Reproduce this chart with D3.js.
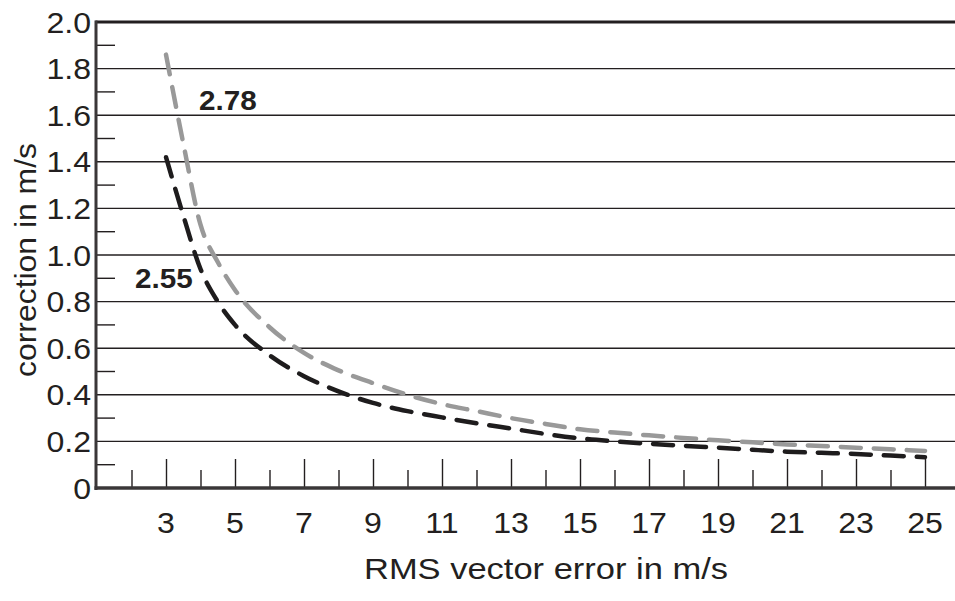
<!DOCTYPE html>
<html>
<head>
<meta charset="utf-8">
<script src="https://cdn.jsdelivr.net/npm/d3@7"></script>
<style>
  html, body { margin: 0; padding: 0; background: #fff; }
  svg { display: block; }
  text { font-family: "Liberation Sans", Arial, Helvetica, sans-serif; fill: #231f20; }
</style>
</head>
<body>
<svg id="chart" width="955" height="601"></svg>
<script>
// RMS vector error (m/s) at which each correction value is given
const rmsError = [3, 3.5, 4, 4.5, 5, 6, 7, 8, 9, 10, 11, 12, 13, 14, 15, 16, 17, 18, 19, 20, 21, 22, 23, 24, 25];

// Correction in m/s for the two curves
const correction278 = [1.86, 1.48, 1.13, 0.97, 0.85, 0.69, 0.58, 0.505, 0.45, 0.40, 0.36, 0.33, 0.30, 0.275, 0.252, 0.238, 0.226, 0.215, 0.205, 0.196, 0.187, 0.18, 0.173, 0.166, 0.159];
const correction255 = [1.42, 1.17, 0.94, 0.80, 0.70, 0.57, 0.48, 0.415, 0.365, 0.33, 0.303, 0.278, 0.255, 0.232, 0.213, 0.20, 0.19, 0.181, 0.173, 0.164, 0.156, 0.151, 0.146, 0.139, 0.132];

const seriesNames = ["2.78", "2.55"];

// Axis ticks and labels
const xLabelTicks = [3, 5, 7, 9, 11, 13, 15, 17, 19, 21, 23, 25];
const xMinorTicks = [2, 4, 6, 8, 10, 12, 14, 16, 18, 20, 22, 24];
const yLabelTicks = [0, 0.2, 0.4, 0.6, 0.8, 1.0, 1.2, 1.4, 1.6, 1.8, 2.0];
const yMinorTicks = [0.1, 0.3, 0.5, 0.7, 0.9, 1.1, 1.3, 1.5, 1.7, 1.9];

const xTitle = "RMS vector error in m/s";
const yTitle = "correction in m/s";

const W = 955, H = 601;
const plotLeft = 97, plotTop = 22, plotBottom = 488, plotRight = W;

const x = d3.scaleLinear().domain([1, 26]).range([plotLeft, plotLeft + 25 * 34.5]);
const y = d3.scaleLinear().domain([0, 2]).range([plotBottom, plotTop]);

const svg = d3.select("#chart");
svg.append("rect").attr("width", W).attr("height", H).attr("fill", "#fff");

const ink = "#231f20";
const tickStretch = 1.07;
const titleStretch = 1.15;

// horizontal grid lines
svg.append("g").selectAll("line")
  .data(yLabelTicks.filter(v => v > 0 && v < 2))
  .join("line")
  .attr("x1", plotLeft).attr("x2", plotRight)
  .attr("y1", d => y(d)).attr("y2", d => y(d))
  .attr("stroke", ink).attr("stroke-width", 1.4);

// short ticks between grid lines
svg.append("g").selectAll("line")
  .data(yMinorTicks)
  .join("line")
  .attr("x1", plotLeft).attr("x2", plotLeft + 18)
  .attr("y1", d => y(d)).attr("y2", d => y(d))
  .attr("stroke", ink).attr("stroke-width", 1.4);

// top frame line
svg.append("line")
  .attr("x1", plotLeft - 1.5).attr("x2", plotRight)
  .attr("y1", y(2)).attr("y2", y(2))
  .attr("stroke", ink).attr("stroke-width", 3);

// x ticks drawn with a bottom axis pointing upward
const xAxisMajor = d3.axisBottom(x).tickValues(xLabelTicks).tickSize(-29).tickFormat("");
const xAxisMinor = d3.axisBottom(x).tickValues(xMinorTicks).tickSize(-18).tickFormat("");
[xAxisMajor, xAxisMinor].forEach(ax => {
  const g = svg.append("g").attr("transform", `translate(0,${plotBottom})`).call(ax);
  g.select(".domain").remove();
  g.selectAll(".tick line").attr("stroke", ink).attr("stroke-width", 1.4);
});

// x tick labels
svg.append("g").selectAll("text")
  .data(xLabelTicks)
  .join("text")
  .attr("text-anchor", "middle")
  .attr("font-size", 30)
  .attr("transform", d => `translate(${x(d)},533) scale(${tickStretch},1)`)
  .text(d => d3.format("d")(d));

// y tick labels
svg.append("g").selectAll("text")
  .data(yLabelTicks)
  .join("text")
  .attr("text-anchor", "end")
  .attr("font-size", 30)
  .attr("dy", "0.35em")
  .attr("transform", d => `translate(91,${y(d)}) scale(${tickStretch},1)`)
  .text(d => d === 0 ? "0" : d3.format(".1f")(d));

// axis titles
svg.append("text")
  .attr("text-anchor", "middle")
  .attr("font-size", 30)
  .attr("transform", `translate(546,579) scale(${titleStretch},1)`)
  .text(xTitle);

svg.append("text")
  .attr("text-anchor", "middle")
  .attr("font-size", 29)
  .attr("transform", `translate(36,260) rotate(-90) scale(1.1,1)`)
  .text(yTitle);

// curves
const line = d3.line()
  .x((d, i) => x(rmsError[i]))
  .y(d => y(d))
  .curve(d3.curveMonotoneX);

const series = [
  { name: seriesNames[0], values: correction278, color: "#999999" },
  { name: seriesNames[1], values: correction255, color: "#1e1c1d" }
];

svg.append("g").selectAll("path")
  .data(series)
  .join("path")
  .attr("d", d => line(d.values))
  .attr("fill", "none")
  .attr("stroke", d => d.color)
  .attr("stroke-width", 4.5)
  .attr("stroke-dasharray", "20,13")
  .attr("stroke-linecap", "round");

// curve labels
svg.append("text")
  .attr("font-size", 28).attr("font-weight", "bold")
  .attr("transform", `translate(199,110) scale(1.06,1)`)
  .text(seriesNames[0]);
svg.append("text")
  .attr("font-size", 28).attr("font-weight", "bold")
  .attr("transform", `translate(135,288) scale(1.06,1)`)
  .text(seriesNames[1]);

// axis lines
svg.append("line")
  .attr("x1", plotLeft - 1).attr("x2", plotLeft - 1)
  .attr("y1", y(2) - 1.5).attr("y2", plotBottom + 2)
  .attr("stroke", "#3a3738").attr("stroke-width", 3);
svg.append("line")
  .attr("x1", plotLeft - 2.5).attr("x2", plotRight)
  .attr("y1", plotBottom).attr("y2", plotBottom)
  .attr("stroke", "#3a3738").attr("stroke-width", 3.5);
</script>
</body>
</html>
